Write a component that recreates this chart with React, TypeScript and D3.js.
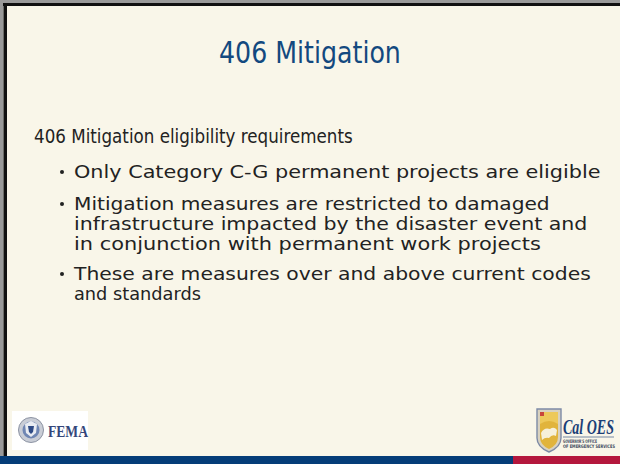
import React, { useRef, useEffect } from "react";
import * as d3 from "d3";

// slide text
const title = "406 Mitigation";
const heading = "406 Mitigation eligibility requirements";
const bullets: string[][] = [
  ["Only Category C-G permanent projects are eligible"],
  [
    "Mitigation measures are restricted to damaged",
    "infrastructure impacted by the disaster event and",
    "in conjunction with permanent work projects",
  ],
  ["These are measures over and above current codes", "and standards"],
];
// measured widths of each line in the reference
const bulletWidths: number[][] = [[527], [476, 514, 467], [517, 127]];
const leftLogoText = "FEMA";
const rightLogoText = "Cal OES";
const rightLogoSub = ["GOVERNOR'S OFFICE", "OF EMERGENCY SERVICES"];

const W = 620;
const H = 464;
const FONT = "'DejaVu Sans', 'Noto Sans', sans-serif";
const SERIF = "'Liberation Serif', 'DejaVu Serif', serif";

// squeeze a text horizontally so it spans exactly `width` px
const fitText = (
  parent: d3.Selection<SVGGElement, unknown, null, undefined>,
  str: string,
  x: number,
  y: number,
  width: number,
  attrs: Record<string, string | number>
) => {
  const t = parent.append("text").text(str);
  Object.entries(attrs).forEach(([k, v]) => t.attr(k, v));
  const natural = (t.node() as SVGTextElement).getComputedTextLength() || width;
  t.attr("transform", `translate(${x},${y}) scale(${width / natural},1)`);
  return t;
};

const App = () => {
  const ref = useRef<HTMLDivElement>(null);

  useEffect(() => {
    const root = d3.select(ref.current);
    root.select("svg").remove();

    const svg = root
      .append("svg")
      .attr("width", W)
      .attr("height", H)
      .style("position", "fixed")
      .style("left", 0)
      .style("top", 0);

    // background + frame
    svg.append("rect").attr("width", W).attr("height", H).attr("fill", "#f9f6e9");
    svg.append("rect").attr("width", W).attr("height", 3).attr("fill", "#9a9a9a");
    svg.append("rect").attr("width", 3.5).attr("height", H).attr("fill", "#9a9a9a");
    svg.append("rect").attr("x", 3).attr("y", 3).attr("width", W - 3).attr("height", 3).attr("fill", "#111");
    svg.append("rect").attr("x", 3.5).attr("y", 3).attr("width", 3.5).attr("height", H).attr("fill", "#111");

    // bottom band
    svg.append("rect").attr("x", 0).attr("y", 456).attr("width", W).attr("height", 8).attr("fill", "#053d78");
    svg.append("rect").attr("x", 513).attr("y", 456).attr("width", W - 513).attr("height", 8).attr("fill", "#b4173d");

    const body = svg.append("g") as d3.Selection<SVGGElement, unknown, null, undefined>;

    // title
    fitText(body, title, 219, 63, 182, {
      "font-family": FONT,
      "font-size": 30,
      fill: "#13497f",
    });

    // heading
    fitText(body, heading, 34, 143, 319, {
      "font-family": FONT,
      "font-size": 20,
      fill: "#222",
    });

    // bullets: baseline of the first line of each paragraph, then 20px per line
    const paraTop = [178, 210, 280];
    const lineGap = 20;
    bullets.forEach((lines, i) => {
      body
        .append("circle")
        .attr("cx", 62)
        .attr("cy", paraTop[i] - 6)
        .attr("r", 2)
        .attr("fill", "#222");
      lines.forEach((line, j) => {
        fitText(body, line, 74, paraTop[i] + j * lineGap, bulletWidths[i][j], {
          "font-family": FONT,
          "font-size": 18,
          fill: "#222",
        });
      });
    });

    // FEMA logo (simplified)
    const fema = svg.append("g") as d3.Selection<SVGGElement, unknown, null, undefined>;
    fema.append("rect").attr("x", 12).attr("y", 411).attr("width", 76).attr("height", 39).attr("fill", "#ffffff");
    fema.append("circle").attr("cx", 31).attr("cy", 430).attr("r", 12.5).attr("fill", "#c9cdd6").attr("stroke", "#8c93a3").attr("stroke-width", 1);
    fema.append("circle").attr("cx", 31).attr("cy", 430).attr("r", 8.5).attr("fill", "#6f86b3");
    fema.append("path").attr("d", "M25,424 L31,421 L37,424 L36,433 L31,437 L26,433 Z").attr("fill", "#e9ecf2");
    fema.append("path").attr("d", "M28,426 L34,426 L33,432 L31,434 L29,432 Z").attr("fill", "#2f4b86");
    fitText(fema, leftLogoText, 48, 437, 40, {
      "font-family": SERIF,
      "font-weight": "bold",
      "font-size": 17,
      fill: "#34467a",
    });

    // Cal OES logo (simplified)
    const oes = svg.append("g") as d3.Selection<SVGGElement, unknown, null, undefined>;
    oes.append("path")
      .attr("d", "M537,409 L561,409 L561,438 Q561,447 549,452 Q537,447 537,438 Z")
      .attr("fill", "#d9d2c0")
      .attr("stroke", "#7d8aa6")
      .attr("stroke-width", 1.4);
    oes.append("path")
      .attr("d", "M540,412 L558,412 L558,437 Q558,445 549,449 Q540,445 540,437 Z")
      .attr("fill", "#e1b43c");
    oes.append("path")
      .attr("d", "M540,412 L558,412 L558,424 Q549,418 540,424 Z")
      .attr("fill", "#edc95a");
    oes.append("path")
      .attr("d", "M541,433 Q544,427 550,429 Q554,426 557,430 L556,436 Q552,434 549,438 Q545,437 542,440 Z")
      .attr("fill", "#f6f0da");
    oes.append("rect").attr("x", 540).attr("y", 412).attr("width", 4).attr("height", 4).attr("fill", "#c9463a");
    fitText(oes, rightLogoText, 563, 434, 51, {
      "font-family": SERIF,
      "font-weight": "bold",
      "font-style": "italic",
      "font-size": 21,
      fill: "#1c3f77",
    });
    oes.append("line").attr("x1", 563).attr("x2", 614).attr("y1", 437).attr("y2", 437).attr("stroke", "#1c3f77").attr("stroke-width", 0.6);
    rightLogoSub.forEach((s, i) => {
      fitText(oes, s, 563, 442.5 + i * 5.5, i === 0 ? 34 : 52, {
        "font-family": FONT,
        "font-weight": "bold",
        "font-size": 4.8,
        fill: "#3d4a60",
      });
    });
  }, []);

  return <div ref={ref} />;
};

export default App;
